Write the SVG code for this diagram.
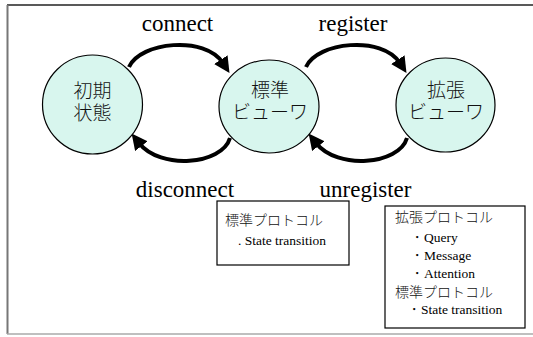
<svg xmlns="http://www.w3.org/2000/svg" width="533" height="337" viewBox="0 0 533 337">
<style>
.node{fill:#d8f6ee;stroke:#000;stroke-width:1.2}
.jp{font-family:"Noto Sans CJK JP","Noto Sans CJK SC",sans-serif;font-weight:300;fill:#111}
.lbl{font-family:"Liberation Serif",serif;font-size:23px;fill:#000;text-anchor:middle}
.en{font-family:"Liberation Serif",serif;font-size:13.5px;fill:#000}
.arc{fill:none;stroke:#000;stroke-width:4;marker-end:url(#ah)}
.box{fill:#fff;stroke:#000;stroke-width:1.2}
</style>
<defs>
<marker id="ah" markerUnits="userSpaceOnUse" markerWidth="18" markerHeight="16" refX="4" refY="8" orient="auto" viewBox="0 0 18 16">
<path d="M0,0 L16,8 L0,16 z" fill="#000"/>
</marker>
</defs>
<rect width="533" height="337" fill="#fff"/>
<g id="frame">
<line x1="7" y1="5" x2="533" y2="5" stroke="#222" stroke-width="1.3"/>
<line x1="7.5" y1="5" x2="7.5" y2="334" stroke="#777" stroke-width="2"/>
<line x1="7" y1="334" x2="533" y2="334" stroke="#aaa" stroke-width="1.5"/>
</g>
<g id="connectors">
<path class="arc" d="M129,67 C140,42 205,35 223,63"/>
<path class="arc" d="M306,67 C317,42 382,35 400,63"/>
<path class="arc" d="M230,138 C222,165 160,170 139,143"/>
<path class="arc" d="M407,138 C399,165 337,170 316,143"/>
<text class="lbl" x="177.5" y="31">connect</text>
<text class="lbl" x="353" y="31">register</text>
<text class="lbl" x="185" y="197">disconnect</text>
<text class="lbl" x="365.5" y="197">unregister</text>
</g>
<g id="initial">
<ellipse class="node" cx="92.5" cy="104.5" rx="50" ry="49.5"/>
<text class="jp" font-size="19" text-anchor="middle" x="92.5" y="98">初期</text>
<text class="jp" font-size="19" text-anchor="middle" x="92.5" y="120">状態</text>
</g>
<g id="standard">
<ellipse class="node" cx="269" cy="106.5" rx="50" ry="46.5"/>
<text class="jp" font-size="19" text-anchor="middle" x="270" y="97">標準</text>
<text class="jp" font-size="19" text-anchor="middle" x="270" y="119">ビューワ</text>
</g>
<g id="extended">
<ellipse class="node" cx="445.5" cy="105" rx="49.5" ry="47"/>
<text class="jp" font-size="19" text-anchor="middle" x="446" y="97">拡張</text>
<text class="jp" font-size="19" text-anchor="middle" x="446" y="119">ビューワ</text>
</g>
<g id="std-protocol">
<rect class="box" x="217" y="201" width="132" height="64"/>
<text class="jp" font-size="14" x="225" y="225">標準プロトコル</text>
<text class="en" x="238" y="245">. State transition</text>
</g>
<g id="ext-protocol">
<rect class="box" x="385" y="206" width="140" height="122"/>
<text class="jp" font-size="14" x="395" y="222">拡張プロトコル</text>
<text class="en" x="410" y="242">・Query</text>
<text class="en" x="410" y="260">・Message</text>
<text class="en" x="410" y="278">・Attention</text>
<text class="jp" font-size="14" x="395" y="297">標準プロトコル</text>
<text class="en" x="407" y="314">・State transition</text>
</g>
</svg>
